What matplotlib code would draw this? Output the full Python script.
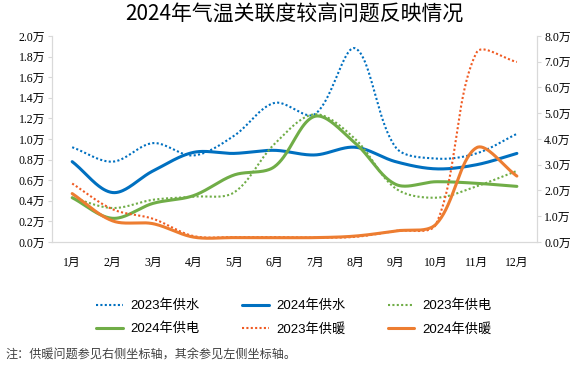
import numpy as np
import matplotlib
matplotlib.use('Agg')
import matplotlib.pyplot as plt
from matplotlib.ticker import FuncFormatter, MultipleLocator

plt.rcParams['font.family'] = ['Liberation Serif', 'Noto Sans CJK SC']

# Data (unit: 万)
months = ['1月', '2月', '3月', '4月', '5月', '6月', '7月', '8月', '9月', '10月', '11月', '12月']
water_2023 = [0.92, 0.78, 0.96, 0.84, 1.03, 1.35, 1.24, 1.88, 0.92, 0.81, 0.86, 1.05]
water_2024 = [0.78, 0.48, 0.69, 0.87, 0.86, 0.89, 0.845, 0.92, 0.78, 0.71, 0.75, 0.86]
power_2023 = [0.43, 0.33, 0.41, 0.44, 0.48, 0.95, 1.24, 1.00, 0.52, 0.43, 0.54, 0.69]
power_2024 = [0.43, 0.23, 0.375, 0.45, 0.65, 0.73, 1.22, 0.96, 0.56, 0.585, 0.57, 0.54]
heat_2023 = [2.27, 1.27, 0.90, 0.23, 0.19, 0.19, 0.17, 0.20, 0.43, 0.69, 7.35, 6.99]   # right axis
heat_2024 = [1.88, 0.82, 0.71, 0.19, 0.17, 0.17, 0.17, 0.23, 0.43, 0.69, 3.66, 2.56]   # right axis

BLUE = '#0070C0'
GREEN = '#70AD47'
ORANGE = '#ED7D31'
ORANGE_DOT = '#F05A22'

# approx pixels per data unit, used to weight the smoothing like Excel does
PX_X = 40.4
PX_LEFT = 103.0
PX_RIGHT = 25.75


def smooth(y, sy, n=40):
    # smoothed line: cubic Bezier, tangents weighted by chord length (screen space)
    x = np.arange(len(y), dtype=float) * PX_X
    y = np.asarray(y, dtype=float) * sy
    P = np.column_stack([x, y])
    m = len(P)
    d = np.hypot(np.diff(P[:, 0]), np.diff(P[:, 1]))
    t = np.linspace(0, 1, n)[:, None]
    out = []
    for i in range(m - 1):
        p0, p3 = P[i], P[i + 1]
        prev = P[i - 1] if i > 0 else P[i]
        nxt = P[i + 2] if i + 2 < m else P[i + 1]
        dp = d[i - 1] if i > 0 else 0.0
        dn = d[i + 1] if i + 2 < m else 0.0
        c1 = p0 + (p3 - prev) * d[i] / (dp + d[i]) / 3
        c2 = p3 - (nxt - p0) * d[i] / (d[i] + dn) / 3
        b = ((1 - t) ** 3) * p0 + 3 * ((1 - t) ** 2) * t * c1 + 3 * (1 - t) * t ** 2 * c2 + t ** 3 * p3
        out.append(b)
    b = np.vstack(out)
    return b[:, 0] / PX_X, b[:, 1] / sy


fig = plt.figure(figsize=(5.88, 3.78), dpi=100)
ax = fig.add_axes([0.0884, 0.3598, 0.825, 0.545])
ax2 = ax.twinx()

dot = (0, (1, 1.1))
lw_s = 2.2
lw_d = 1.5

h = {}
x, y = smooth(water_2023, PX_LEFT)
h['2023年供水'], = ax.plot(x, y, color=BLUE, lw=lw_d, ls=dot, dash_capstyle='butt')
x, y = smooth(water_2024, PX_LEFT)
h['2024年供水'], = ax.plot(x, y, color=BLUE, lw=lw_s, solid_capstyle='round')
x, y = smooth(power_2023, PX_LEFT)
h['2023年供电'], = ax.plot(x, y, color=GREEN, lw=lw_d, ls=dot, dash_capstyle='butt')
x, y = smooth(power_2024, PX_LEFT)
h['2024年供电'], = ax.plot(x, y, color=GREEN, lw=lw_s, solid_capstyle='round')
x, y = smooth(heat_2023, PX_RIGHT)
h['2023年供暖'], = ax2.plot(x, y, color=ORANGE_DOT, lw=lw_d, ls=dot, dash_capstyle='butt')
x, y = smooth(heat_2024, PX_RIGHT)
h['2024年供暖'], = ax2.plot(x, y, color=ORANGE, lw=lw_s, solid_capstyle='round')

ax.set_xlim(-0.5, 11.5)
ax.set_ylim(0, 2.0)
ax2.set_ylim(0, 8.0)
ax.yaxis.set_major_locator(MultipleLocator(0.2))
ax2.yaxis.set_major_locator(MultipleLocator(1.0))
ax.yaxis.set_major_formatter(FuncFormatter(lambda v, p: '%.1f万' % v))
ax2.yaxis.set_major_formatter(FuncFormatter(lambda v, p: '%.1f万' % v))
ax.set_xticks(range(12))
ax.set_xticklabels(months)

for a in (ax, ax2):
    for s in a.spines.values():
        s.set_color('#D9D9D9')
    a.spines['top'].set_visible(False)
    a.tick_params(axis='y', length=3, color='#D9D9D9', labelsize=8.5, pad=2)
ax.tick_params(axis='x', length=0, labelsize=8.5, pad=11)

order = ['2023年供水', '2024年供电', '2024年供水', '2023年供暖', '2023年供电', '2024年供暖']
fig.legend([h[k] for k in order], order, ncol=3, loc='center', bbox_to_anchor=(0.5, 0.16),
           frameon=False, handlelength=2.0, columnspacing=3.2, handletextpad=0.6,
           labelspacing=0.8, prop={'family': ['Liberation Sans', 'Noto Sans CJK SC'], 'size': 9.5})

fig.text(0.5, 0.962, '2024年气温关联度较高问题反映情况', ha='center', va='center',
         fontsize=15, family=['Noto Sans CJK SC'])
fig.text(0.01, 0.06, '注：供暖问题参见右侧坐标轴，其余参见左侧坐标轴。', ha='left', va='center',
         fontsize=8.7, color='#404040', family=['Noto Sans CJK SC'])

fig.savefig('out.png', dpi=100)
